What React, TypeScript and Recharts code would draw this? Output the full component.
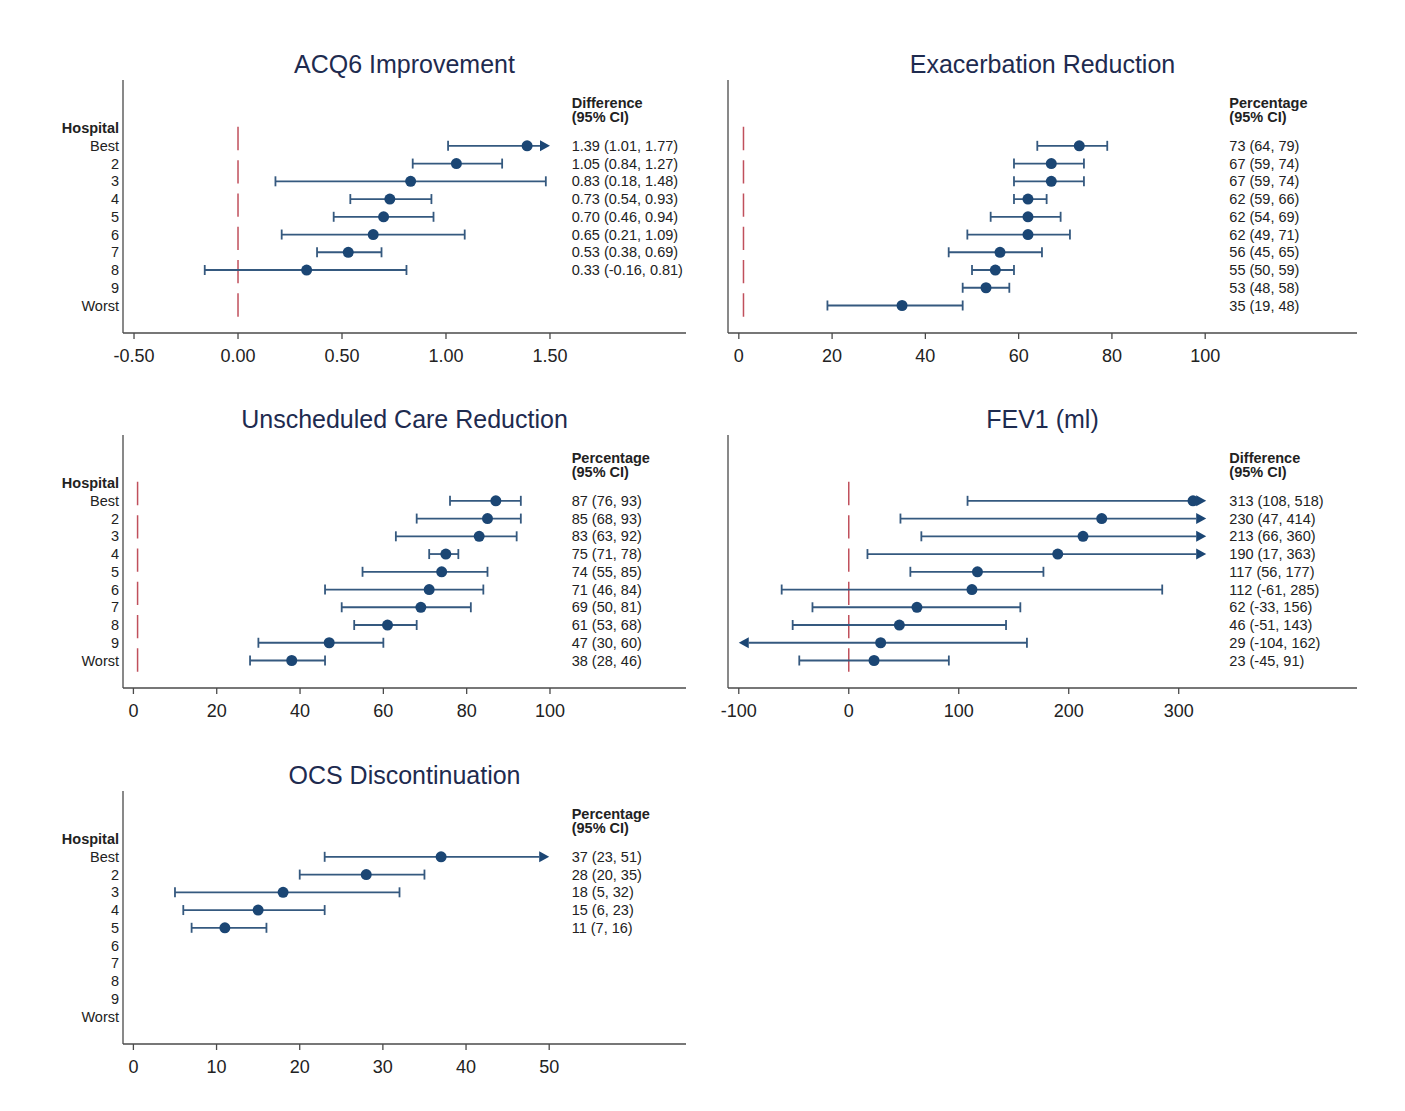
import { ScatterChart, Scatter, XAxis, YAxis, ReferenceLine } from 'recharts';

const FONT = '"Liberation Sans", Arial, Helvetica, sans-serif';
const TITLE_COLOR = '#1e2b4f';
const TEXT = '#222';
const AXIS = '#4a4a4a';
const CI = '#35597f';
const DOT = '#1b4674';
const REF = '#c0505c';

const HOSPITALS = ['Hospital', 'Best', '2', '3', '4', '5', '6', '7', '8', '9', 'Worst'];
const ROW_TICKS = [0, 1, 2, 3, 4, 5, 6, 7, 8, 9, 10];

// ACQ6 improvement, difference (95% CI)
const acqEst = [1.39, 1.05, 0.83, 0.73, 0.7, 0.65, 0.53, 0.33];
const acqLow = [1.01, 0.84, 0.18, 0.54, 0.46, 0.21, 0.38, -0.16];
const acqHigh = [1.77, 1.27, 1.48, 0.93, 0.94, 1.09, 0.69, 0.81];
const acqTicks = [-0.5, 0, 0.5, 1, 1.5];

// Exacerbation reduction, percentage (95% CI)
const exaEst = [73, 67, 67, 62, 62, 62, 56, 55, 53, 35];
const exaLow = [64, 59, 59, 59, 54, 49, 45, 50, 48, 19];
const exaHigh = [79, 74, 74, 66, 69, 71, 65, 59, 58, 48];
const exaTicks = [0, 20, 40, 60, 80, 100];

// Unscheduled care reduction, percentage (95% CI)
const uncEst = [87, 85, 83, 75, 74, 71, 69, 61, 47, 38];
const uncLow = [76, 68, 63, 71, 55, 46, 50, 53, 30, 28];
const uncHigh = [93, 93, 92, 78, 85, 84, 81, 68, 60, 46];
const uncTicks = [0, 20, 40, 60, 80, 100];

// FEV1 (ml), difference (95% CI)
const fevEst = [313, 230, 213, 190, 117, 112, 62, 46, 29, 23];
const fevLow = [108, 47, 66, 17, 56, -61, -33, -51, -104, -45];
const fevHigh = [518, 414, 360, 363, 177, 285, 156, 143, 162, 91];
const fevTicks = [-100, 0, 100, 200, 300];

// OCS discontinuation, percentage (95% CI)
const ocsEst = [37, 28, 18, 15, 11];
const ocsLow = [23, 20, 5, 6, 7];
const ocsHigh = [51, 35, 32, 23, 16];
const ocsTicks = [0, 10, 20, 30, 40, 50];

interface Panel {
  title: string;
  header: string;
  est: number[];
  low: number[];
  high: number[];
  ticks: number[];
  domain: [number, number];
  clip: [number, number];
  refX?: number;
  decimals: number;
  side: 'left' | 'right';
  top: number;
}

const panels: Panel[] = [
  { title: 'ACQ6 Improvement', header: 'Difference', est: acqEst, low: acqLow, high: acqHigh, ticks: acqTicks,
    domain: [-0.553, 2.154], clip: [-0.5, 1.5], refX: 0, decimals: 2, side: 'left', top: 80 },
  { title: 'Exacerbation Reduction', header: 'Percentage', est: exaEst, low: exaLow, high: exaHigh, ticks: exaTicks,
    domain: [-2.32, 132.55], clip: [0, 100], refX: 1, decimals: 0, side: 'right', top: 80 },
  { title: 'Unscheduled Care Reduction', header: 'Percentage', est: uncEst, low: uncLow, high: uncHigh, ticks: uncTicks,
    domain: [-2.5, 132.65], clip: [0, 100], refX: 1, decimals: 0, side: 'left', top: 435 },
  { title: 'FEV1 (ml)', header: 'Difference', est: fevEst, low: fevLow, high: fevHigh, ticks: fevTicks,
    domain: [-109.8, 462.1], clip: [-100, 325], refX: 0, decimals: 0, side: 'right', top: 435 },
  { title: 'OCS Discontinuation', header: 'Percentage', est: ocsEst, low: ocsLow, high: ocsHigh, ticks: ocsTicks,
    domain: [-1.25, 66.45], clip: [0, 50], decimals: 0, side: 'left', top: 791 },
];

const ROW_DOMAIN: [number, number] = [-2.71, 11.55];
const TEXT_COL = 0.797;

function ciShape(lowCut: boolean, highCut: boolean) {
  return (p: any) => {
    const { x1, x2, y1 } = p;
    const y = y1;
    const a = 10;
    const h = 5.5;
    const cap = 5;
    const sx = lowCut ? x1 + a : x1;
    const ex = highCut ? x2 - a : x2;
    return (
      <g>
        <line x1={sx} y1={y} x2={ex} y2={y} stroke={CI} strokeWidth={1.8} />
        {lowCut ? (
          <polygon points={`${x1},${y} ${x1 + a},${y - h} ${x1 + a},${y + h}`} fill={DOT} />
        ) : (
          <line x1={x1} y1={y - cap} x2={x1} y2={y + cap} stroke={CI} strokeWidth={1.8} />
        )}
        {highCut ? (
          <polygon points={`${x2},${y} ${x2 - a},${y - h} ${x2 - a},${y + h}`} fill={DOT} />
        ) : (
          <line x1={x2} y1={y - cap} x2={x2} y2={y + cap} stroke={CI} strokeWidth={1.8} />
        )}
      </g>
    );
  };
}

function HospitalTick(p: any) {
  const v = p.payload.value as number;
  return (
    <text
      x={p.x}
      y={p.y}
      textAnchor="end"
      dominantBaseline="central"
      fontSize={14.5}
      fontWeight={v === 0 ? 'bold' : 'normal'}
      fill={TEXT}
      fontFamily={FONT}
    >
      {HOSPITALS[v]}
    </text>
  );
}

function renderDot(p: any) {
  if (p.cx == null || p.cy == null) return <g />;
  return <circle cx={p.cx} cy={p.cy} r={5.5} fill={DOT} />;
}

function renderText(p: any) {
  if (p.cx == null || p.cy == null) return <g />;
  return (
    <text
      x={p.cx}
      y={p.cy}
      dominantBaseline="central"
      fontSize={14.5}
      fontWeight={p.payload.bold ? 'bold' : 'normal'}
      fill={TEXT}
      fontFamily={FONT}
    >
      {p.payload.label}
    </text>
  );
}

function ForestPanel({ panel }: { panel: Panel }) {
  const isLeft = panel.side === 'left';
  const chartLeft = isLeft ? 0 : 700;
  const chartWidth = isLeft ? 700 : 670;
  const axisWidth = isLeft ? 123 : 28;
  const marginRight = isLeft ? 14 : 13;
  const plotLeft = chartLeft + axisWidth;
  const plotWidth = chartWidth - axisWidth - marginRight;

  const fmt = (v: number) => v.toFixed(panel.decimals);
  const [d0, d1] = panel.domain;
  const textX = d0 + TEXT_COL * (d1 - d0);

  const dots = panel.est.map((v, i) => ({ x: v, row: i + 1 }));
  const texts = [
    { x: textX, row: -1.41, label: panel.header, bold: true },
    { x: textX, row: -0.62, label: '(95% CI)', bold: true },
    ...panel.est.map((v, i) => ({
      x: textX,
      row: i + 1,
      label: `${fmt(v)} (${fmt(panel.low[i])}, ${fmt(panel.high[i])})`,
      bold: false,
    })),
  ];

  return (
    <>
      <div
        style={{
          position: 'absolute',
          left: plotLeft,
          top: panel.top - 31,
          width: plotWidth,
          height: 30,
          lineHeight: '30px',
          textAlign: 'center',
          fontSize: 25,
          color: TITLE_COLOR,
        }}
      >
        {panel.title}
      </div>
      <div style={{ position: 'absolute', left: chartLeft, top: panel.top }}>
        <ScatterChart width={chartWidth} height={293} margin={{ top: 0, right: marginRight, bottom: 0, left: 0 }}>
          <XAxis
            type="number"
            dataKey="x"
            domain={panel.domain}
            allowDataOverflow
            ticks={panel.ticks}
            interval={0}
            tickFormatter={(v: number) => fmt(v)}
            height={40}
            tickSize={6}
            tickMargin={10}
            axisLine={{ stroke: AXIS, strokeWidth: 1.3 }}
            tickLine={{ stroke: AXIS, strokeWidth: 1.3 }}
            tick={{ fontSize: 18, fill: TEXT, fontFamily: FONT }}
          />
          <YAxis
            type="number"
            dataKey="row"
            domain={ROW_DOMAIN}
            allowDataOverflow
            reversed
            ticks={ROW_TICKS}
            interval={0}
            width={axisWidth}
            tickSize={0}
            tickMargin={4}
            tickLine={false}
            axisLine={{ stroke: AXIS, strokeWidth: 1.3 }}
            tick={isLeft ? HospitalTick : false}
          />
          {panel.refX !== undefined && (
            <ReferenceLine
              segment={[
                { x: panel.refX, y: -0.07 },
                { x: panel.refX, y: 10.66 },
              ]}
              stroke={REF}
              strokeWidth={1.5}
              strokeDasharray="23.3 10"
            />
          )}
          {panel.est.map((_, i) => {
            const lo = Math.max(panel.low[i], panel.clip[0]);
            const hi = Math.min(panel.high[i], panel.clip[1]);
            return (
              <ReferenceLine
                key={i}
                segment={[
                  { x: lo, y: i + 1 },
                  { x: hi, y: i + 1 },
                ]}
                shape={ciShape(panel.low[i] < panel.clip[0], panel.high[i] > panel.clip[1])}
              />
            );
          })}
          <Scatter data={dots} shape={renderDot} isAnimationActive={false} />
          <Scatter data={texts} shape={renderText} isAnimationActive={false} />
        </ScatterChart>
      </div>
    </>
  );
}

export default function App() {
  return (
    <div
      style={{
        position: 'absolute',
        left: 0,
        top: 0,
        width: 1405,
        height: 1111,
        background: '#fff',
        fontFamily: FONT,
      }}
    >
      {panels.map((p) => (
        <ForestPanel key={p.title} panel={p} />
      ))}
    </div>
  );
}
